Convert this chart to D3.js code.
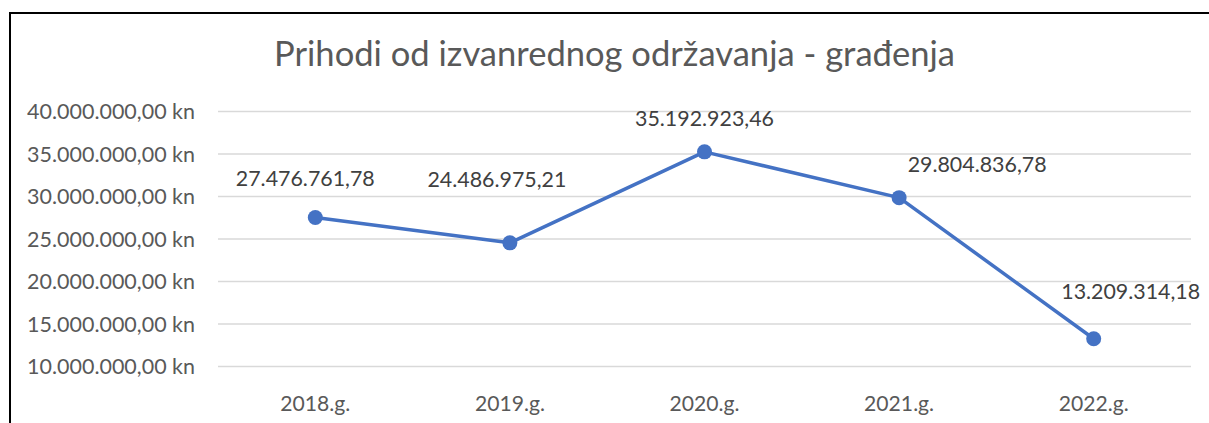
<!DOCTYPE html>
<html><head><meta charset="utf-8">
<script src="https://cdn.jsdelivr.net/npm/d3@7"></script>
<style>body{margin:0;background:#fff;overflow:hidden}svg{display:block}</style>
</head><body>
<svg id="c" width="1209" height="423"></svg>
<script>
// ---- data ----
const title = "Prihodi od izvanrednog održavanja - građenja";
const categories = ["2018.g.", "2019.g.", "2020.g.", "2021.g.", "2022.g."];
const values = [27476761.78, 24486975.21, 35192923.46, 29804836.78, 13209314.18];
const yTicks = [10000000, 15000000, 20000000, 25000000, 30000000, 35000000, 40000000];

// ---- layout / style ----
const FONT = "Lato, 'Open Sans', sans-serif";
const labelDx = [-10, -13, 0, 78, 37];   // manual data label shifts (px)
const labelDy = [-31, -56, -26, -26, -40];
const plot = {left: 218, right: 1191, top: 111, bottom: 366};

const hr = d3.formatLocale({decimal: ",", thousands: ".", grouping: [3], currency: ["", " kn"]});
const fmt = hr.format(",.2f");
const fmtKn = v => fmt(v) + " kn";

const svg = d3.select("#c");

// frame
svg.append("rect").attr("x", 10).attr("y", 13).attr("width", 1300).attr("height", 500)
  .attr("fill", "none").attr("stroke", "#000").attr("stroke-width", 2);

function fitSize(text, target, base) {
  const t = svg.append("text").attr("font-family", FONT).attr("font-size", base).text(text);
  const w = t.node().getComputedTextLength();
  t.remove();
  return base * target / w;
}

const x = d3.scaleBand().domain(categories).range([plot.left, plot.right]);
const y = d3.scaleLinear().domain([10000000, 40000000]).range([plot.bottom, plot.top]);
const cx = c => x(c) + x.bandwidth() / 2;

// gridlines
svg.append("g").attr("transform", `translate(${plot.left},0)`)
  .call(d3.axisLeft(y).tickValues(yTicks).tickSize(-(plot.right - plot.left)).tickFormat(""))
  .call(g => g.select(".domain").remove())
  .call(g => g.selectAll("line").attr("stroke", "#d9d9d9").attr("stroke-width", 1.5));

// y labels
const ySize = fitSize(fmtKn(40000000), 168, 20);
svg.append("g").attr("transform", `translate(${plot.left},0)`)
  .call(d3.axisLeft(y).tickValues(yTicks).tickSize(0).tickPadding(23).tickFormat(fmtKn))
  .call(g => g.select(".domain").remove())
  .call(g => g.selectAll("text").attr("font-family", FONT).attr("font-size", ySize)
    .attr("fill", "#595959").attr("dy", "0.35em"));

// x labels
const xSize = fitSize(categories[0], 70, 20);
svg.append("g").attr("transform", `translate(0,${plot.bottom})`)
  .call(d3.axisBottom(x).tickSize(0).tickPadding(0))
  .call(g => g.select(".domain").remove())
  .call(g => g.selectAll("text").attr("font-family", FONT).attr("font-size", xSize)
    .attr("fill", "#595959").attr("dy", 0).attr("y", 45));

// title
const tSize = fitSize(title, 681, 30);
svg.append("text").attr("x", 614.5).attr("y", 66).attr("text-anchor", "middle")
  .attr("font-family", FONT).attr("font-size", tSize).attr("fill", "#595959").text(title);

// line
const line = d3.line().x((d, i) => cx(categories[i])).y(d => y(d));
svg.append("path").datum(values).attr("d", line).attr("fill", "none")
  .attr("stroke", "#4472c4").attr("stroke-width", 3.5).attr("stroke-linejoin", "round");

svg.append("g").selectAll("circle").data(values).join("circle")
  .attr("cx", (d, i) => cx(categories[i])).attr("cy", d => y(d)).attr("r", 7.5)
  .attr("fill", "#4472c4");

// data labels
const dSize = fitSize(fmt(values[0]), 139, 20);
svg.append("g").selectAll("text").data(values).join("text")
  .attr("x", (d, i) => cx(categories[i]) + labelDx[i])
  .attr("y", (d, i) => y(d) + labelDy[i])
  .attr("text-anchor", "middle").attr("font-family", FONT).attr("font-size", dSize)
  .attr("fill", "#404040").text(d => fmt(d));
</script>
</body></html>
